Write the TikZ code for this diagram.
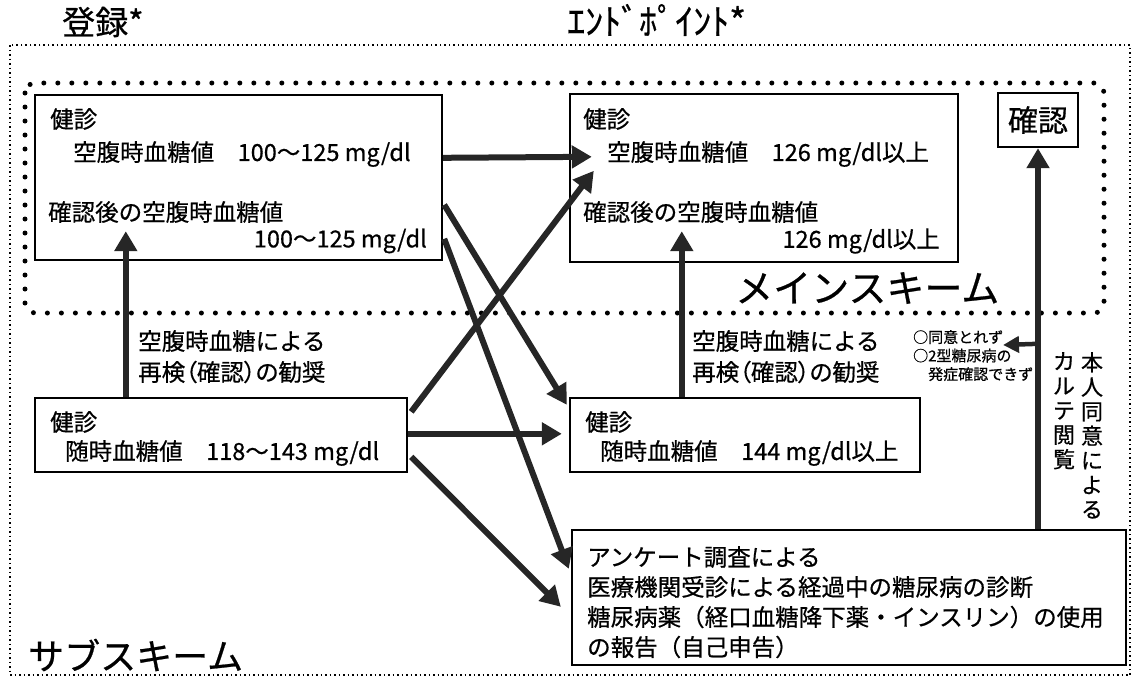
\documentclass[tikz,border=0pt]{standalone}
\usepackage{fontspec}
\setmainfont{Noto Sans CJK JP}[FakeBold=0.6]
\usetikzlibrary{arrows.meta,calc}

\begin{document}
\begin{tikzpicture}[x=1pt,y=-1pt,
  box/.style={draw=black, line width=2.4pt, inner sep=0pt},
  txt/.style={anchor=west, inner sep=0pt, font=\fontsize{23.5}{28}\selectfont},
  head/.style={anchor=west, inner sep=0pt, font=\fontsize{33}{38}\selectfont},
  arr/.style={draw=black!85, line width=6pt, -{Triangle[length=20pt,width=22pt]}},
  arrsmall/.style={draw=black!85, line width=4.5pt, -{Triangle[length=16pt,width=16pt]}}]
\useasboundingbox (0,0) rectangle (1137,678);
% frames
\draw[line width=2pt, dash pattern=on 1.5pt off 3pt] (10,45) rectangle (1130,675);
\draw[line width=5pt, line cap=round, dash pattern=on 0pt off 14pt, rounded corners=10pt] (25,83) rectangle (1104,313);
\node[head] (entry) at (62,22) {登録*};
\node[head, font=\fontsize{36}{40}\selectfont] (endpoint) at (567,20) {ｴﾝﾄﾞﾎﾟｲﾝﾄ*};
\node[anchor=west, inner sep=0pt, font=\fontsize{38}{44}\selectfont] (mainscheme) at (735,288) {メインスキーム};
\node[anchor=west, inner sep=0pt, font=\fontsize{36}{42}\selectfont] (subscheme) at (28,655) {サブスキーム};

% boxes
\node[box, minimum width=407, minimum height=165] (kenA) at (238.5,177.5) {};
\node[box, minimum width=388, minimum height=168] (kenB) at (764,178) {};
\node[box, minimum width=80, minimum height=54, font=\fontsize{30}{34}\selectfont] (kakunin) at (1038,120) {確認};
\node[box, minimum width=372, minimum height=74] (kenC) at (221,435) {};
\node[box, minimum width=350, minimum height=74] (kenD) at (745,435) {};
\node[box, minimum width=554, minimum height=135] (kenE) at (849,597.5) {};

% box texts
\node[txt] (a1) at (50,119) {健診};
\node[txt] (a2) at (73,154) {空腹時血糖値　100～125 mg/dl};
\node[txt] (a3) at (48,212) {確認後の空腹時血糖値};
\node[txt, anchor=east] (a4) at (427,241) {100～125 mg/dl};
\node[txt] (b1) at (583,119) {健診};
\node[txt] (b2) at (607,154) {空腹時血糖値　126 mg/dl以上};
\node[txt] (b3) at (583,212) {確認後の空腹時血糖値};
\node[txt, anchor=east] (b4) at (940,241) {126 mg/dl以上};
\node[txt] (c1) at (50,422) {健診};
\node[txt] (c2) at (65,453) {随時血糖値　118～143 mg/dl};
\node[txt] (d1) at (585,422) {健診};
\node[txt] (d2) at (600,453) {随時血糖値　144 mg/dl以上};
\node[txt] (e1) at (587,557) {アンケート調査による};
\node[txt] (e2) at (587,587) {医療機関受診による経過中の糖尿病の診断};
\node[txt] (e3) at (587,617) {糖尿病薬（経口血糖降下薬・インスリン）の使用};
\node[txt] (e4) at (587,647) {の報告（自己申告）};

% labels
\node[txt] (recheckA1) at (138,341) {空腹時血糖による};
\node[txt] (recheckA2) at (138,372) {\addfontfeatures{RawFeature=+palt}再検（確認）の勧奨};
\node[txt] (recheckB1) at (692,341) {空腹時血糖による};
\node[txt] (recheckB2) at (692,372) {\addfontfeatures{RawFeature=+palt}再検（確認）の勧奨};
\node[anchor=north west, inner sep=0pt, align=left, font=\fontsize{15}{18.5}\selectfont] (notes) at (913,330) {○同意とれず\\○2型糖尿病の\\　発症確認できず};
\node[anchor=north, inner sep=0pt, align=center, font=\fontsize{22}{24.5}\selectfont] (consent) at (1092,352) {本\\人\\同\\意\\に\\よ\\る};
\node[anchor=north, inner sep=0pt, align=center, font=\fontsize{22}{24.5}\selectfont] (chart) at (1064,352) {カ\\ル\\テ\\閲\\覧};

% connectors
\draw[arr] ($(kenA.north east)+(0,64)$) -- ($(kenB.north west)+(23,64)$);
\draw[arr] ($(kenC.north east)+(3,15)$) -- ($(kenB.north west)+(25,78)$);
\draw[arr] ($(kenA.north east)+(1,111)$) -- ($(kenD.north west)+(-2,8)$);
\draw[arr] ($(kenA.north east)+(1,145)$) -- ($(kenE.north west)+(-2,40)$);
\draw[arr] ($(kenC.north east)+(0,37)$) -- ($(kenD.north west)+(-7,37)$);
\draw[arr] ($(kenC.north east)+(3,60)$) -- ($(kenE.north west)+(-10,78)$);
\draw[arr] ($(kenC.north west)+(92,0)$) -- ($(kenA.south west)+(92,-30)$);
\draw[arr] ($(kenD.north west)+(113,0)$) -- ($(kenB.south west)+(113,-32)$);
\draw[arr] (kenE.north -| kakunin.south) -- (kakunin.south);
\coordinate (fork) at ($(kenE.north -| kakunin.south)+(0,-185)$);
\coordinate (refuse) at (1003,345);
\draw[arrsmall] (fork) -- (refuse);
\end{tikzpicture}
\end{document}
